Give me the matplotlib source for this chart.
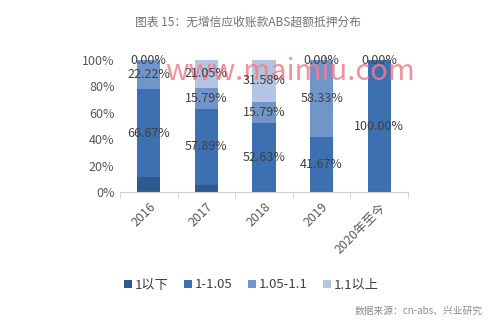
import matplotlib
matplotlib.use("Agg")
import matplotlib.pyplot as plt
import numpy as np

plt.rcParams['font.family'] = ['Noto Sans CJK SC', 'DejaVu Sans']

categories = ['2016', '2017', '2018', '2019', '2020年至今']
series_names = ['1以下', '1-1.05', '1.05-1.1', '1.1以上']
below_1 = [11.11, 5.26, 0.0, 0.0, 0.0]
r1_105 = [66.67, 57.89, 52.63, 41.67, 100.0]
r105_11 = [22.22, 15.79, 15.79, 58.33, 0.0]
above_11 = [0.0, 21.05, 31.58, 0.0, 0.0]
# which values carry a data label (None = no label)
labels_r1_105 = ['66.67%', '57.89%', '52.63%', '41.67%', '100.00%']
labels_r105_11 = ['22.22%', '15.79%', '15.79%', '58.33%', None]
labels_above_11 = ['0.00%', '21.05%', '31.58%', '0.00%', '0.00%']
colors = ['#2e5b8f', '#3d70b0', '#7096c9', '#b3c5e3']

fig = plt.figure(figsize=(4.99, 3.31), dpi=100)
ax = fig.add_axes([120/499, 1-192/331, 288/499, 132/331])

x = np.arange(len(categories))
w = 0.4
data = [below_1, r1_105, r105_11, above_11]
bottom = np.zeros(len(categories))
bars = []
for vals, c, name in zip(data, colors, series_names):
    b = ax.bar(x, vals, w, bottom=bottom, color=c, label=name, zorder=2)
    bars.append((b, bottom.copy(), np.array(vals)))
    bottom += np.array(vals)

lab_sets = [None, labels_r1_105, labels_r105_11, labels_above_11]
for (b, bot, vals), labs in zip(bars, lab_sets):
    if labs is None:
        continue
    for i, t in enumerate(labs):
        if t is None:
            continue
        ax.text(x[i], bot[i] + vals[i] / 2, t, ha='center', va='center',
                fontsize=9, color='#404040', zorder=4)

ax.set_xlim(-0.5, len(categories) - 0.5)
ax.set_ylim(0, 100)
ax.set_yticks(np.arange(0, 101, 20))
ax.set_yticklabels([f'{v}%' for v in range(0, 101, 20)], fontsize=9, color='#595959')
ax.set_xticks(x)
ax.set_xticklabels(categories, rotation=45, ha='right', rotation_mode='anchor',
                   fontsize=9, color='#595959')
ax.tick_params(axis='x', length=0, pad=6)
ax.tick_params(axis='y', length=0, pad=4)
ax.set_xticks(np.arange(-0.5, len(categories), 1), minor=True)
ax.tick_params(axis='x', which='minor', length=4, color='#d0d0d0')
for s in ['top', 'right', 'left']:
    ax.spines[s].set_visible(False)
ax.spines['bottom'].set_color('#d0d0d0')

fig.text(248/499, 1-22/331, '图表 15：无增信应收账款ABS超额抵押分布', ha='center', va='center',
         fontsize=8.5, color='#737373')

leg = fig.legend(loc='center left', bbox_to_anchor=(112/499, 1-285/331), ncol=4,
                 frameon=False, fontsize=9.5, handlelength=0.6, handleheight=0.6,
                 handletextpad=0.2, columnspacing=1.2)
for t in leg.get_texts():
    t.set_color('#404040')

fig.text(483/499, 1-311/331, '数据来源：cn-abs、兴业研究', ha='right', va='center',
         fontsize=7, color='#8c8c8c')

ax.text(290/499, 1-72/331, 'www.maimiu.com', ha='center', va='center',
        transform=fig.transFigure, fontsize=21, fontweight='medium',
        color='#f07f8c', alpha=0.85, zorder=3)

fig.savefig('out.png', dpi=100, facecolor='white')
